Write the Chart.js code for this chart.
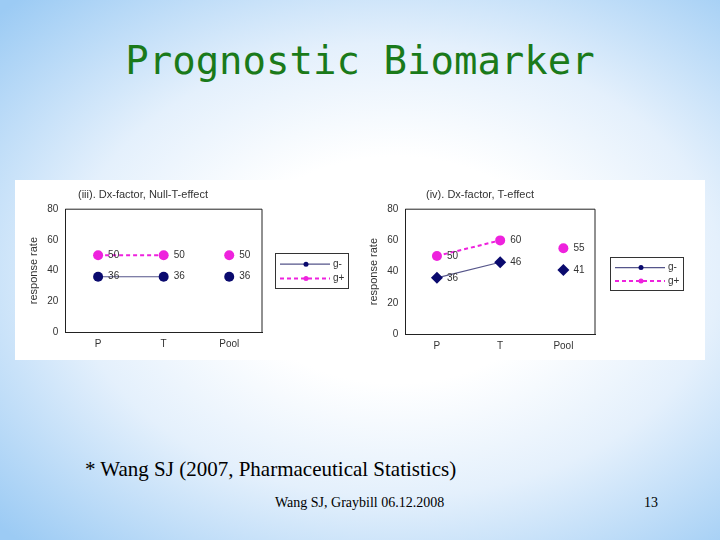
<!DOCTYPE html>
<html>
<head>
<meta charset="utf-8">
<script src="https://cdn.jsdelivr.net/npm/chart.js@4"></script>
<style>
  body { margin: 0; }
  #slide {
    position: relative; width: 720px; height: 540px; overflow: hidden;
    background: radial-gradient(ellipse 75% 70% at 55% 50%, #ffffff 30%, #e4f0fc 60%, #9ccbf4 100%);
  }
  #title {
    position: absolute; left: 0; width: 720px; top: 38px; text-align: center;
    font-family: "DejaVu Sans Mono", monospace; font-size: 39px; color: #1a7a1a;
  }
  #panel { position: absolute; left: 15px; top: 180px; width: 690px; height: 180px; background: #fff; }
  .chartbox { position: absolute; }
  .legend {
    position: absolute; border: 1px solid #333; background: #fff;
    font-family: Arial, "Liberation Sans", sans-serif; font-size: 9px; color: #333;
  }
  .legend canvas { display: block; }
  .foot { position: absolute; font-family: "Liberation Serif", "Times New Roman", serif; color: #000; }
</style>
</head>
<body>
<div id="slide">
  <div id="title">Prognostic Biomarker</div>
  <div id="panel">
    <div class="chartbox" style="left:8px;top:6px;width:244px;height:170px"><canvas id="c1"></canvas></div>
    <div class="chartbox" style="left:348px;top:6px;width:238px;height:172px"><canvas id="c2"></canvas></div>
    <div class="legend" style="left:260px;top:73px;width:72px;height:34px"><canvas id="l1" width="72" height="34"></canvas></div>
    <div class="legend" style="left:595px;top:77px;width:72px;height:32px"><canvas id="l2" width="72" height="32"></canvas></div>
  </div>
  <div class="foot" style="left:85px;top:457px;font-size:21px">* Wang SJ (2007, Pharmaceutical Statistics)</div>
  <div class="foot" style="left:275px;top:495px;font-size:14px">Wang SJ, Graybill 06.12.2008</div>
  <div class="foot" style="left:644px;top:495px;font-size:14px">13</div>
</div>
<script>
const categories = ['P', 'T', 'Pool'];
const yTicks = [0, 20, 40, 60, 80];

// chart (iii): Dx-factor, Null-T-effect
const nullGMinus = [36, 36];
const nullGPlus = [50, 50];
const nullPoolMinus = 36;
const nullPoolPlus = 50;

// chart (iv): Dx-factor, T-effect
const effGMinus = [36, 46];
const effGPlus = [50, 60];
const effPoolMinus = 41;
const effPoolPlus = 55;

const navy = '#0a0a6e';
const magenta = '#ee22dd';
const font = "Arial, 'Liberation Sans', sans-serif";

const valueLabels = {
  id: 'valueLabels',
  afterDatasetsDraw(chart) {
    const ctx = chart.ctx;
    ctx.save();
    ctx.fillStyle = '#333';
    ctx.font = '10px ' + font;
    ctx.textBaseline = 'middle';
    chart.data.datasets.forEach((ds, i) => {
      chart.getDatasetMeta(i).data.forEach((pt, j) => {
        const v = ds.data[j];
        if (v == null) return;
        ctx.fillText(String(v), pt.x + 10, pt.y);
      });
    });
    ctx.restore();
  }
};

function makeChart(id, title, gMinus, gPlus, poolMinus, poolPlus, minusStyle) {
  const pad = arr => arr.concat([null]);
  const pool = v => [null, null, v];
  new Chart(document.getElementById(id), {
    type: 'line',
    data: {
      labels: categories,
      datasets: [
        { data: pad(gPlus), borderColor: magenta, backgroundColor: magenta, borderDash: [4, 3], borderWidth: 2,
          pointStyle: 'circle', pointRadius: 5, pointBorderWidth: 0 },
        { data: pad(gMinus), borderColor: '#55558a', backgroundColor: navy, borderWidth: 1.2,
          pointStyle: minusStyle, pointRadius: minusStyle === 'rectRot' ? 6 : 5, pointBorderWidth: 0 },
        { data: pool(poolPlus), showLine: false, backgroundColor: magenta, pointStyle: 'circle', pointRadius: 5, pointBorderWidth: 0 },
        { data: pool(poolMinus), showLine: false, backgroundColor: navy, pointStyle: minusStyle,
          pointRadius: minusStyle === 'rectRot' ? 6 : 5, pointBorderWidth: 0 }
      ]
    },
    options: {
      responsive: true, maintainAspectRatio: false, animation: false,
      layout: { padding: { right: 4 } },
      plugins: {
        legend: { display: false }, tooltip: { enabled: false },
        title: { display: true, text: title, color: '#333', font: { family: font, size: 11, weight: 'normal' }, padding: { top: 2, bottom: 8 } }
      },
      scales: {
        x: {
          offset: true,
          grid: { display: false, drawTicks: false },
          border: { color: '#222' },
          ticks: { color: '#333', font: { family: font, size: 10 }, padding: 6 }
        },
        y: {
          min: 0, max: 80,
          afterBuildTicks: s => { s.ticks = yTicks.map(v => ({ value: v })); },
          grid: { display: false, tickLength: 4, tickColor: '#222' },
          border: { color: '#222' },
          ticks: { color: '#333', font: { family: font, size: 10 } },
          title: { display: true, text: 'response rate', color: '#333', font: { family: font, size: 11 } }
        }
      }
    },
    plugins: [valueLabels, {
      id: 'frame',
      afterDraw(chart) {
        const a = chart.chartArea, ctx = chart.ctx;
        ctx.save();
        ctx.strokeStyle = '#222'; ctx.lineWidth = 1;
        ctx.beginPath();
        ctx.moveTo(a.left, a.top); ctx.lineTo(a.right, a.top); ctx.lineTo(a.right, a.bottom);
        ctx.stroke();
        ctx.restore();
      }
    }]
  });
}

makeChart('c1', '(iii). Dx-factor, Null-T-effect', nullGMinus, nullGPlus, nullPoolMinus, nullPoolPlus, 'circle');
makeChart('c2', '(iv). Dx-factor, T-effect', effGMinus, effGPlus, effPoolMinus, effPoolPlus, 'rectRot');

function drawLegend(id, h) {
  const ctx = document.getElementById(id).getContext('2d');
  ctx.font = '10px ' + font;
  ctx.textBaseline = 'middle';
  const y1 = h * 0.3, y2 = h * 0.72;
  ctx.strokeStyle = '#55558a'; ctx.lineWidth = 1.2;
  ctx.beginPath(); ctx.moveTo(4, y1); ctx.lineTo(54, y1); ctx.stroke();
  ctx.fillStyle = navy; ctx.beginPath(); ctx.arc(30, y1, 2.5, 0, Math.PI * 2); ctx.fill();
  ctx.strokeStyle = magenta; ctx.lineWidth = 2; ctx.setLineDash([4, 3]);
  ctx.beginPath(); ctx.moveTo(4, y2); ctx.lineTo(54, y2); ctx.stroke();
  ctx.fillStyle = magenta; ctx.beginPath(); ctx.arc(30, y2, 2.5, 0, Math.PI * 2); ctx.fill();
  ctx.fillStyle = '#333';
  ctx.fillText('g-', 57, y1);
  ctx.fillText('g+', 57, y2);
}
drawLegend('l1', 34);
drawLegend('l2', 32);
</script>
</body>
</html>
